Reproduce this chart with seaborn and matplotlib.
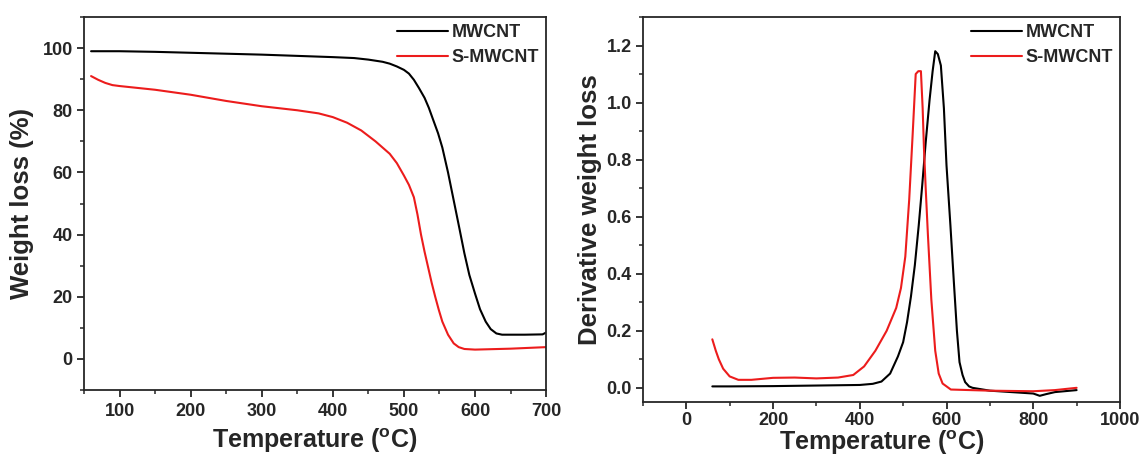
import pandas as pd
import matplotlib.pyplot as plt
from matplotlib.ticker import MultipleLocator
import seaborn as sns

# TGA curves (weight %)
tga_temp_mw = [60, 100, 150, 200, 250, 300, 350, 400, 430, 450, 470, 480, 490, 500, 507, 514,
               521, 529, 535, 541, 548, 554, 562, 570, 578, 585, 592, 600, 607, 615, 622,
               630, 638, 645, 670, 695, 700]
tga_mw = [99, 99, 98.8, 98.5, 98.2, 97.9, 97.5, 97.1, 96.8, 96.3, 95.6, 95, 94.1, 93, 91.8, 89.8,
          87.2, 84, 80.8, 77, 72.6, 68, 60, 51, 42, 34, 27, 21, 16, 12, 9.6,
          8.2, 7.8, 7.8, 7.8, 7.9, 8.5]
tga_temp_smw = [60, 70, 80, 90, 100, 150, 200, 250, 300, 350, 380, 400, 420, 440, 460, 480,
                490, 500, 507, 514, 519, 524, 529, 534, 539, 544, 549, 554, 562, 570,
                577, 585, 600, 650, 700]
tga_smw = [91, 89.8, 88.8, 88.1, 87.8, 86.6, 85, 83, 81.3, 80, 79, 77.8, 76, 73.5, 70, 66,
           63, 59, 56, 52, 46.5, 40, 34.5, 29.5, 24.5, 20, 15.8, 12, 7.8, 5,
           3.8, 3.2, 3, 3.3, 3.8]

# DTG curves (derivative weight loss)
dtg_temp_mw = [60, 100, 200, 300, 400, 430, 450, 470, 488, 500, 509, 518, 527, 536, 544, 552,
               561, 568, 574, 580, 587, 594, 600, 609, 617, 624, 630, 637, 643, 652, 660,
               700, 750, 800, 815, 830, 850, 900]
dtg_mw = [0.005, 0.005, 0.006, 0.008, 0.01, 0.014, 0.022, 0.05, 0.11, 0.16, 0.23, 0.32, 0.43, 0.57, 0.71, 0.86,
          1.01, 1.11, 1.18, 1.17, 1.13, 0.98, 0.78, 0.57, 0.37, 0.2, 0.09, 0.045, 0.02, 0.005, 0.0,
          -0.01, -0.015, -0.02, -0.028, -0.022, -0.015, -0.008]
dtg_temp_smw = [60, 68, 75, 85, 100, 120, 150, 200, 250, 300, 350, 385, 410, 436, 462, 484,
                495, 505, 514, 522, 529, 535, 541, 545, 548, 552, 557, 565, 574, 582, 591,
                610, 700, 800, 850, 900]
dtg_smw = [0.17, 0.13, 0.1, 0.067, 0.04, 0.028, 0.028, 0.035, 0.036, 0.033, 0.036, 0.045, 0.075, 0.13, 0.2, 0.28,
           0.35, 0.46, 0.66, 0.89, 1.10, 1.11, 1.11, 0.98, 0.84, 0.7, 0.54, 0.31, 0.13, 0.05, 0.015,
           -0.006, -0.01, -0.012, -0.008, 0.0]

labels = ['MWCNT', 'S-MWCNT']
colors = {'MWCNT': 'black', 'S-MWCNT': '#ec1c1c'}

tga = pd.concat([
    pd.DataFrame({'T': tga_temp_mw, 'v': tga_mw, 'sample': labels[0]}),
    pd.DataFrame({'T': tga_temp_smw, 'v': tga_smw, 'sample': labels[1]}),
])
dtg = pd.concat([
    pd.DataFrame({'T': dtg_temp_mw, 'v': dtg_mw, 'sample': labels[0]}),
    pd.DataFrame({'T': dtg_temp_smw, 'v': dtg_smw, 'sample': labels[1]}),
])

sns.set_style("ticks")
plt.rcParams['font.family'] = ['Liberation Sans', 'DejaVu Sans']
plt.rcParams['font.weight'] = 'bold'
plt.rcParams['mathtext.fontset'] = 'custom'
plt.rcParams['mathtext.bf'] = 'Liberation Sans:bold'
plt.rcParams['mathtext.rm'] = 'Liberation Sans:bold'

fig = plt.figure(figsize=(11.44, 4.59), dpi=100)
ax1 = fig.add_axes([0.0734, 0.1503, 0.404, 0.8126])
ax2 = fig.add_axes([0.562, 0.124, 0.417, 0.839])

sns.lineplot(data=tga, x='T', y='v', hue='sample', palette=colors, ax=ax1,
             linewidth=1.5, sort=False, estimator=None)
sns.lineplot(data=dtg, x='T', y='v', hue='sample', palette=colors, ax=ax2,
             linewidth=1.5, sort=False, estimator=None)

xlabel = r'Temperature ($\mathrm{^{o}}$C)'
ax1.set_xlim(50, 700)
ax1.set_ylim(-10, 110)
ax1.xaxis.set_major_locator(MultipleLocator(100))
ax1.xaxis.set_minor_locator(MultipleLocator(50))
ax1.yaxis.set_major_locator(MultipleLocator(20))
ax1.yaxis.set_minor_locator(MultipleLocator(10))
ax1.set_xlabel(xlabel, fontsize=18, fontweight='bold', labelpad=5)
ax1.set_ylabel('Weight loss (%)', fontsize=18.5, fontweight='bold', labelpad=6)

ax2.set_xlim(-100, 1000)
ax2.set_ylim(-0.05, 1.3)
ax2.xaxis.set_major_locator(MultipleLocator(200))
ax2.xaxis.set_minor_locator(MultipleLocator(100))
ax2.yaxis.set_major_locator(MultipleLocator(0.2))
ax2.yaxis.set_minor_locator(MultipleLocator(0.1))
ax2.set_xlabel(xlabel, fontsize=18, fontweight='bold', labelpad=0)
ax2.set_ylabel('Derivative weight loss', fontsize=18.5, fontweight='bold', labelpad=3)

for ax in (ax1, ax2):
    for s in ax.spines.values():
        s.set_linewidth(1.3)
    ax.tick_params(which='major', direction='out', length=5, width=1.3, labelsize=13)
    ax.tick_params(which='minor', direction='out', length=3, width=1.1)
    ax.tick_params(axis='y', which='major', pad=3)
    for lab in ax.get_xticklabels() + ax.get_yticklabels():
        lab.set_fontweight('bold')
    ax.legend(loc='upper right', frameon=False, handlelength=2.8, handletextpad=0.2,
              labelspacing=0.45, borderaxespad=0.2, borderpad=0.2,
              prop={'weight': 'bold', 'size': 13}, title=None)

ax1.tick_params(axis='x', which='major', pad=4)
ax2.tick_params(axis='x', which='major', pad=2)

fig.savefig('out.png', dpi=100)
